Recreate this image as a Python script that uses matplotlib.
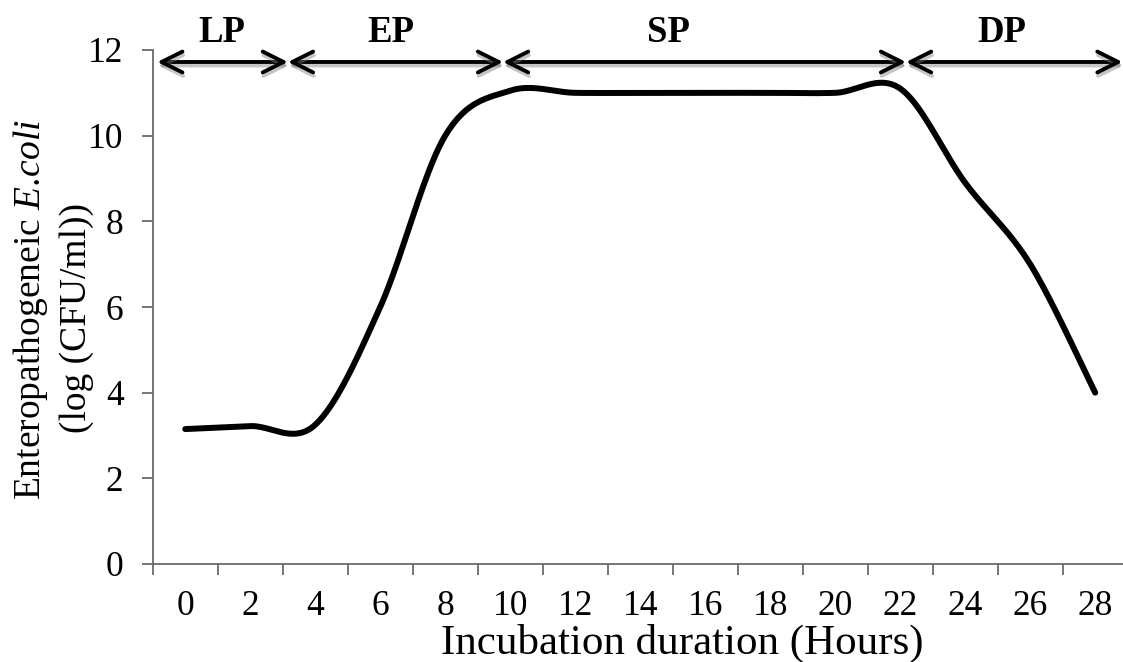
import numpy as np
import matplotlib
matplotlib.use("Agg")
import matplotlib.pyplot as plt
from matplotlib.patches import FancyArrowPatch
import matplotlib.patheffects as pe

plt.rcParams['font.family'] = ['Liberation Serif', 'DejaVu Serif']
plt.rcParams['mathtext.fontset'] = 'custom'
plt.rcParams['mathtext.rm'] = 'Liberation Serif'
plt.rcParams['mathtext.it'] = 'Liberation Serif:italic'

# ---- data ----
hours = [0, 2, 4, 6, 8, 10, 12, 14, 16, 18, 20, 22, 24, 26, 28]
log_cfu = [3.15, 3.22, 3.25, 6.0, 10.0, 11.05, 11.0, 11.0, 11.0, 11.0, 11.0, 11.1, 8.9, 7.0, 4.0]
y_ticks = [0, 2, 4, 6, 8, 10, 12]
phase_names = ["LP", "EP", "SP", "DP"]
phase_bounds = [-0.43, 1.58, 4.89, 11.09, 14.42]   # category-index positions of arrow ends
phase_label_pos = [0.57, 3.17, 7.43, 12.57]
phase_arrow_level = 11.72
phase_label_level = 12.42

W, H = 1123, 662
fig = plt.figure(figsize=(W / 100, H / 100), dpi=100)
left, right, bottom, top = 152.7, 1127.7, 564, 50
ax = fig.add_axes([left / W, 1 - bottom / H, (right - left) / W, (bottom - top) / H])
ax.set_xlim(-0.5, len(hours) - 0.5)
ax.set_ylim(0, 12)


def excel_smooth(xs, ys, n=40):
    P = np.column_stack([xs, ys]).astype(float)
    m = len(P)
    out = [P[0]]
    for i in range(m - 1):
        p0 = P[i - 1] if i > 0 else P[i]
        p1 = P[i]
        p2 = P[i + 1]
        p3 = P[i + 2] if i + 2 < m else P[i + 1]
        c1 = p1 + (p2 - p0) / 6.0
        c2 = p2 - (p3 - p1) / 6.0
        t = np.linspace(0, 1, n)[1:, None]
        seg = ((1 - t) ** 3) * p1 + 3 * ((1 - t) ** 2) * t * c1 + 3 * (1 - t) * t ** 2 * c2 + t ** 3 * p2
        out.extend(seg)
    out = np.array(out)
    return out[:, 0], out[:, 1]


idx = np.arange(len(hours))
sx, sy = excel_smooth(idx, log_cfu)
ax.plot(sx, sy, color='black', lw=4.3, solid_capstyle='round', solid_joinstyle='round', clip_on=False, zorder=3)

# phase arrows
for k, name in enumerate(phase_names):
    a = FancyArrowPatch((phase_bounds[k], phase_arrow_level), (phase_bounds[k + 1], phase_arrow_level),
                        arrowstyle='<->,head_length=15,head_width=7.5', mutation_scale=1,
                        shrinkA=0, shrinkB=0, lw=2.8, color='black', clip_on=False, zorder=4,
                        capstyle='round', joinstyle='round')
    a.set_path_effects([pe.SimpleLineShadow(offset=(0.5, -2.5), shadow_color='gray', alpha=0.45),
                        pe.Normal()])
    ax.add_patch(a)
    ax.text(phase_label_pos[k], phase_label_level, name, ha='center', va='center',
            fontsize=26.5, fontweight='bold', clip_on=False)

# axes styling
for s in ['top', 'right']:
    ax.spines[s].set_visible(False)
for s in ['left', 'bottom']:
    ax.spines[s].set_color('#6a6a6a')
    ax.spines[s].set_linewidth(1.3)

ax.set_yticks(y_ticks)
ax.set_yticklabels([str(v) for v in y_ticks])
ax.tick_params(axis='y', which='major', direction='out', length=8, width=1.3, color='#6a6a6a',
               labelsize=25.5, pad=13)

ax.set_xticks(idx)
ax.set_xticklabels([str(h) for h in hours])
ax.set_xticks(np.arange(-0.5, len(hours) - 0.4, 1.0), minor=True)
ax.tick_params(axis='x', which='major', length=0, labelsize=25.5, pad=19)
ax.tick_params(axis='x', which='minor', direction='out', length=8, width=1.3, color='#6a6a6a')

# axis titles
fig.text(682 / W, 1 - 643 / H, "Incubation duration (Hours)", ha='center', va='center', fontsize=31)
fig.text(31 / W, 1 - 310 / H, r"Enteropathogeneic $\mathit{E.\!coli}$", ha='center', va='center',
         rotation=90, fontsize=27)
fig.text(77 / W, 1 - 318 / H, "(log (CFU/ml))", ha='center', va='center', rotation=90, fontsize=27)

fig.savefig("out.png", dpi=100, facecolor='white')
